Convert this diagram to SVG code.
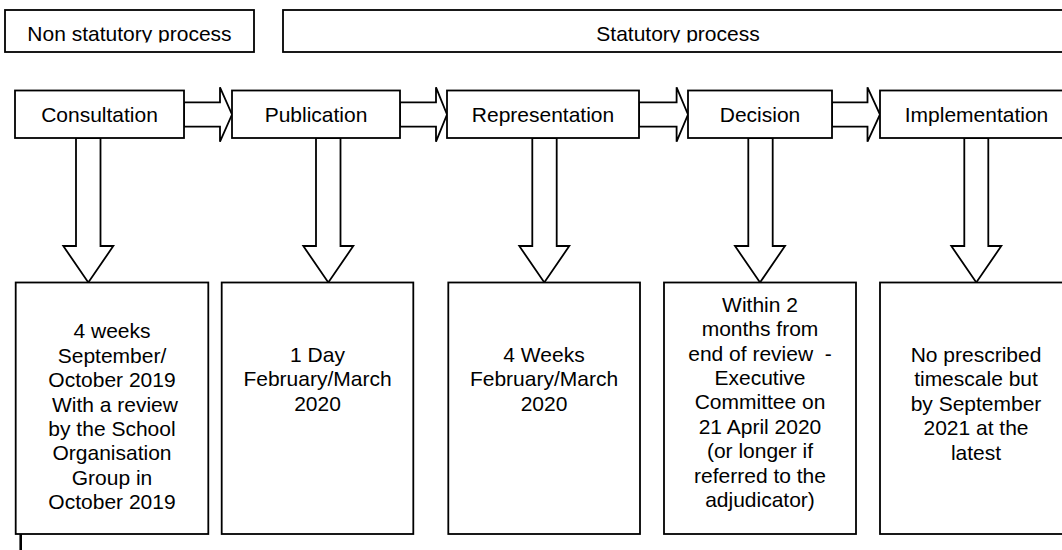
<svg xmlns="http://www.w3.org/2000/svg" width="1062" height="550" viewBox="0 0 1062 550">
<style>
  .box { fill: #fff; stroke: #000; stroke-width: 1.8; }
  .arr { fill: #fff; stroke: #000; stroke-width: 1.8; stroke-linejoin: miter; }
  text { font-family: "Liberation Sans", Arial, sans-serif; font-size: 21px; fill: #000; text-anchor: middle; white-space: pre; }
</style>
<defs>
  <clipPath id="topclip"><rect x="0" y="0" width="1062" height="42.5"/></clipPath>
</defs>
<rect x="0" y="0" width="1062" height="550" fill="#fff"/>

<g id="non-statutory">
  <rect class="box" x="5" y="10" width="249" height="42"/>
  <text x="129.5" y="41" clip-path="url(#topclip)">Non statutory process</text>
</g>
<g id="statutory">
  <rect class="box" x="283" y="10" width="790" height="42"/>
  <text x="678" y="41" clip-path="url(#topclip)">Statutory process</text>
</g>

<g id="connectors">
  <!-- horizontal arrows -->
  <polygon class="arr" points="184,102.3 220,102.3 220,87.3 232,114.5 220,141.7 220,126.7 184,126.7"/>
  <polygon class="arr" points="400,102.3 436,102.3 436,87.3 447,114.5 436,141.7 436,126.7 400,126.7"/>
  <polygon class="arr" points="639,102.3 676.6,102.3 676.6,87.3 688,114.5 676.6,141.7 676.6,126.7 639,126.7"/>
  <polygon class="arr" points="832,102.3 867.5,102.3 867.5,87.3 880,114.5 867.5,141.7 867.5,126.7 832,126.7"/>
  <!-- down arrows -->
  <polygon class="arr" points="76,138 100.5,138 100.5,246 113.3,246 88.3,282.5 63.3,246 76,246"/>
  <polygon class="arr" points="316,138 340.5,138 340.5,246 353.3,246 328.3,282.5 303.3,246 316,246"/>
  <polygon class="arr" points="532.3,138 556.7,138 556.7,246 569.3,246 544.3,282.5 519.3,246 532.3,246"/>
  <polygon class="arr" points="748.3,138 772.7,138 772.7,246 785,246 760,282.5 735,246 748.3,246"/>
  <polygon class="arr" points="964.3,138 988.3,138 988.3,246 1001.3,246 976.3,282.5 951.3,246 964.3,246"/>
  <line x1="20.7" y1="534" x2="20.7" y2="550" stroke="#000" stroke-width="2.6"/>
</g>

<g id="consultation">
  <rect class="box" x="15" y="90.5" width="169" height="47.5"/>
  <text x="99.5" y="121.5">Consultation</text>
</g>
<g id="publication">
  <rect class="box" x="232" y="90.5" width="168" height="47.5"/>
  <text x="316" y="121.5">Publication</text>
</g>
<g id="representation">
  <rect class="box" x="447" y="90.5" width="192" height="47.5"/>
  <text x="543" y="121.5">Representation</text>
</g>
<g id="decision">
  <rect class="box" x="688" y="90.5" width="144" height="47.5"/>
  <text x="760" y="121.5">Decision</text>
</g>
<g id="implementation">
  <rect class="box" x="880" y="90.5" width="193" height="47.5"/>
  <text x="976.5" y="121.5">Implementation</text>
</g>

<g id="consultation-time">
  <rect class="box" x="15.7" y="282.5" width="192.6" height="251.5"/>
  <text x="112" y="338.3">4 weeks</text>
  <text x="112" y="362.7">September/</text>
  <text x="112" y="387.1">October 2019</text>
  <text x="112" y="411.5"> With a review</text>
  <text x="112" y="435.9">by the School</text>
  <text x="112" y="460.3">Organisation</text>
  <text x="112" y="484.7">Group in</text>
  <text x="112" y="509.1">October 2019</text>
</g>
<g id="publication-time">
  <rect class="box" x="221.7" y="282.5" width="191.6" height="251.5"/>
  <text x="317.5" y="362">1 Day</text>
  <text x="317.5" y="386.4">February/March</text>
  <text x="317.5" y="410.8">2020</text>
</g>
<g id="representation-time">
  <rect class="box" x="448.3" y="282.5" width="191.7" height="251.5"/>
  <text x="544" y="362">4 Weeks</text>
  <text x="544" y="386.4">February/March</text>
  <text x="544" y="410.8">2020</text>
</g>
<g id="decision-time">
  <rect class="box" x="664" y="282.5" width="192" height="251.5"/>
  <text x="760" y="311.7">Within 2</text>
  <text x="760" y="336.1">months from</text>
  <text x="760" y="360.5">end of review  -</text>
  <text x="760" y="384.9">Executive</text>
  <text x="760" y="409.3">Committee on</text>
  <text x="760" y="433.7">21 April 2020</text>
  <text x="760" y="458.1">(or longer if</text>
  <text x="760" y="482.5">referred to the</text>
  <text x="760" y="506.9">adjudicator)</text>
</g>
<g id="implementation-time">
  <rect class="box" x="880" y="282.5" width="192" height="251.5"/>
  <text x="976" y="362">No prescribed</text>
  <text x="976" y="386.4">timescale but</text>
  <text x="976" y="410.8">by September</text>
  <text x="976" y="435.2">2021 at the</text>
  <text x="976" y="459.6">latest</text>
</g>
</svg>
